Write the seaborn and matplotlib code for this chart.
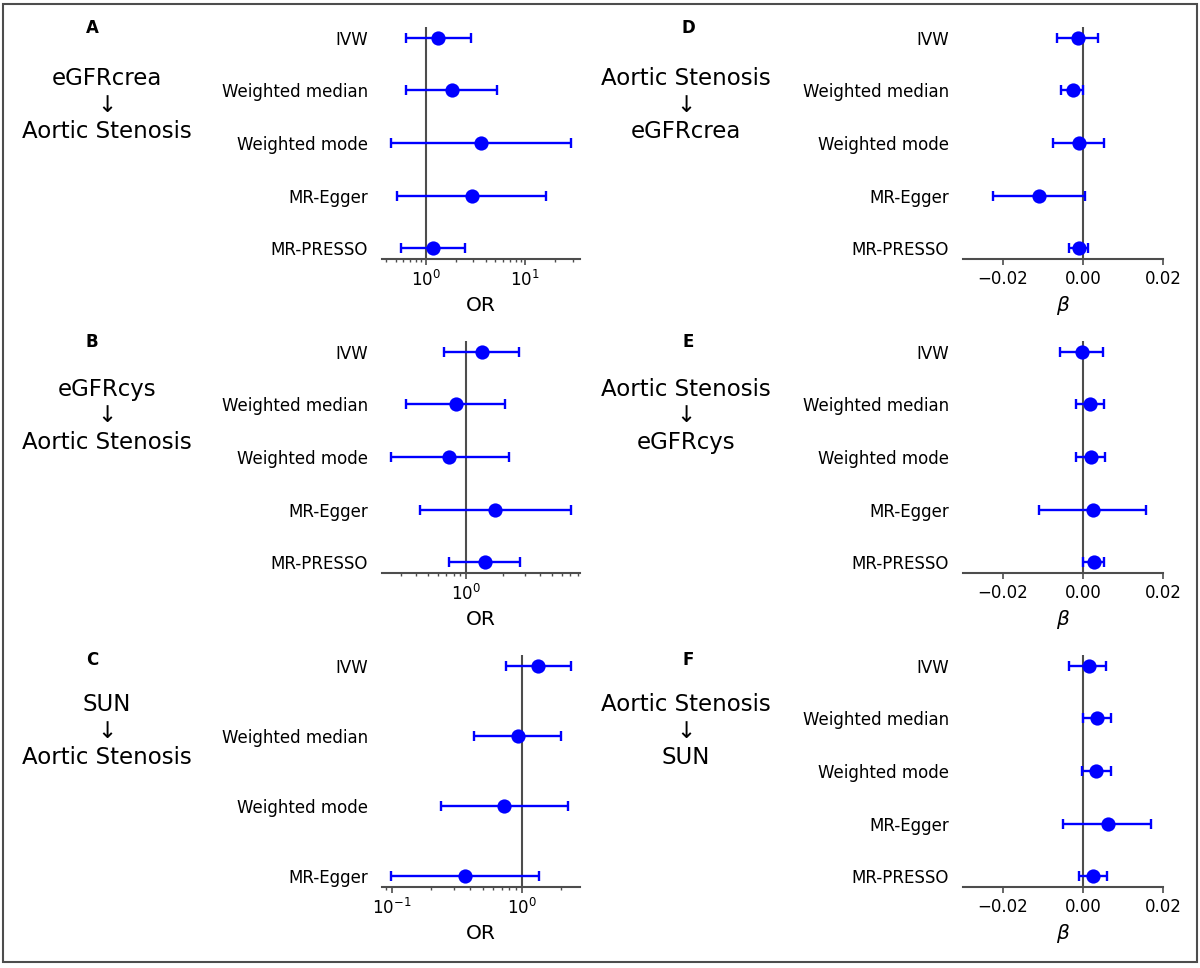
import matplotlib
matplotlib.use("Agg")
import matplotlib.pyplot as plt
import numpy as np
import pandas as pd
import seaborn as sns
from matplotlib.patches import Rectangle

# MR forest plots, six panels (OR on log scale left, beta right)

methods = ["IVW", "Weighted median", "Weighted mode", "MR-Egger", "MR-PRESSO"]

# A: eGFRcrea -> Aortic Stenosis
a_est = [1.34, 1.83, 3.60, 2.93, 1.19]
a_lo = [0.63, 0.64, 0.45, 0.52, 0.57]
a_hi = [2.86, 5.25, 28.8, 16.0, 2.49]

# B: eGFRcys -> Aortic Stenosis
b_est = [1.36, 0.84, 0.74, 1.74, 1.43]
b_lo = [0.67, 0.33, 0.25, 0.43, 0.73]
b_hi = [2.70, 2.08, 2.22, 7.08, 2.77]

# C: SUN -> Aortic Stenosis (no MR-PRESSO)
c_est = [1.34, 0.925, 0.73, 0.365]
c_lo = [0.75, 0.43, 0.24, 0.099]
c_hi = [2.38, 1.99, 2.26, 1.36]

# D: Aortic Stenosis -> eGFRcrea
d_est = [-0.0013, -0.0026, -0.0011, -0.0110, -0.0011]
d_lo = [-0.0065, -0.0055, -0.0074, -0.0224, -0.0036]
d_hi = [0.0037, -0.0001, 0.0052, 0.0006, 0.0012]

# E: Aortic Stenosis -> eGFRcys
e_est = [-0.0003, 0.0018, 0.0020, 0.0025, 0.0027]
e_lo = [-0.0057, -0.0018, -0.0018, -0.0110, -0.0001]
e_hi = [0.0049, 0.0052, 0.0054, 0.0158, 0.0053]

# F: Aortic Stenosis -> SUN
f_est = [0.0015, 0.0035, 0.0033, 0.0062, 0.0026]
f_lo = [-0.0034, 0.0000, -0.0003, -0.0049, -0.0009]
f_hi = [0.0058, 0.0069, 0.0069, 0.0171, 0.0060]

letters = ["A", "B", "C", "D", "E", "F"]
titles = ["eGFRcrea\n\u2193\nAortic Stenosis",
          "eGFRcys\n\u2193\nAortic Stenosis",
          "SUN\n\u2193\nAortic Stenosis",
          "Aortic Stenosis\n\u2193\neGFRcrea",
          "Aortic Stenosis\n\u2193\neGFRcys",
          "Aortic Stenosis\n\u2193\nSUN"]
panels = [(a_est, a_lo, a_hi), (b_est, b_lo, b_hi), (c_est, c_lo, c_hi),
          (d_est, d_lo, d_hi), (e_est, e_lo, e_hi), (f_est, f_lo, f_hi)]

sns.set_style("white")
plt.rcParams["font.family"] = ["DejaVu Sans"]
plt.rcParams["mathtext.fontset"] = "dejavusans"
plt.rcParams.update({"text.color": "black", "axes.labelcolor": "black",
                     "xtick.color": "black", "ytick.color": "black"})

W, H = 1200, 968
fig = plt.figure(figsize=(W / 100, H / 100), dpi=100)


def forest(ax, est, lo, hi, log):
    n = len(est)
    df = pd.DataFrame({"method": methods[:n], "est": est, "lo": lo, "hi": hi})
    df["pos"] = np.arange(n)
    if log:
        ax.set_xscale("log")
    ax.axvline(1 if log else 0, color="0.3", lw=1.5, zorder=1)
    ax.errorbar(df["est"], df["pos"],
                xerr=[df["est"] - df["lo"], df["hi"] - df["est"]],
                fmt="none", ecolor="blue", elinewidth=1.7,
                capsize=3.5, capthick=1.7, zorder=2)
    sns.scatterplot(data=df, x="est", y="pos", color="blue", s=105,
                    linewidth=0, zorder=3, ax=ax, legend=False)
    ax.set_yticks(df["pos"], df["method"])
    ax.invert_yaxis()
    ax.set_ylabel("")
    for s in ["top", "right", "left"]:
        ax.spines[s].set_visible(False)
    ax.spines["bottom"].set_color("0.3")
    ax.spines["bottom"].set_linewidth(1.5)
    ax.tick_params(axis="y", length=0, pad=10, labelsize=12)
    ax.tick_params(axis="x", which="both", color="0.3", labelsize=12,
                   bottom=True)
    ax.tick_params(axis="x", which="major", length=4.5, width=1.2)
    ax.tick_params(axis="x", which="minor", length=2.5, width=1.0)
    if log:
        ax.set_xlabel("OR", fontsize=14.5, labelpad=4)
    else:
        ax.set_xlim(-0.03, 0.02)
        ax.set_xticks([-0.02, 0.0, 0.02])
        ax.set_xlabel(r"$\beta$", fontsize=14.5, labelpad=4)


row_top = [27, 341, 655]
ax_h = 232
col_left = [382, 963]
col_w = [198, 200]
letter_x = [92, 688]
text_x = [107, 686]
letter_y = [28, 342, 660]
text_y = [105, 416, 731]

for i, (est, lo, hi) in enumerate(panels):
    col, row = divmod(i, 3)
    ax = fig.add_axes([col_left[col] / W, 1 - (row_top[row] + ax_h) / H,
                       col_w[col] / W, ax_h / H])
    forest(ax, est, lo, hi, log=(col == 0))
    fig.text(letter_x[col] / W, 1 - letter_y[row] / H, letters[i],
             fontsize=12, fontweight="bold", ha="center", va="center")
    fig.text(text_x[col] / W, 1 - text_y[row] / H, titles[i],
             fontsize=16.5, ha="center", va="center", linespacing=1.2,
             multialignment="center")

fig.add_artist(Rectangle((3 / W, 1 - 962 / H), 1194 / W, 958 / H,
                         transform=fig.transFigure, fill=False,
                         ec="0.3", lw=1.5))

fig.savefig("out.png", dpi=100, facecolor="white")
